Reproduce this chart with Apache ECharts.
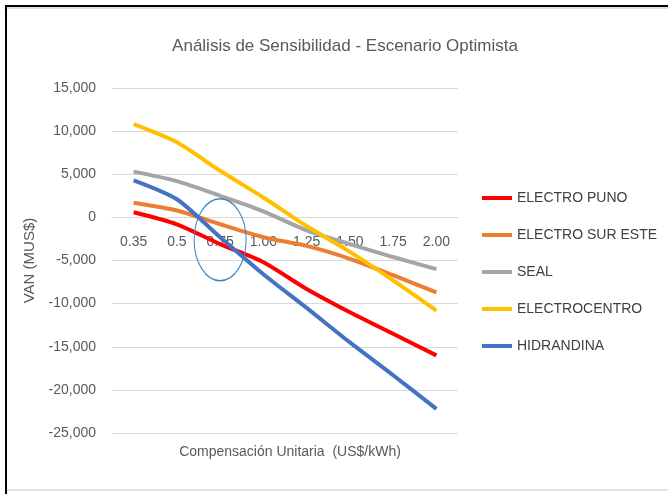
<!DOCTYPE html>
<html>
<head>
<meta charset="utf-8">
<script src="https://cdn.jsdelivr.net/npm/echarts@6/dist/echarts.min.js"></script>
<style>
html,body{margin:0;padding:0;background:#fff;}
#c{width:668px;height:494px;}
</style>
</head>
<body>
<div id="c"></div>
<script>
const categories = ['0.35','0.5','0.75','1.00','1.25','1.50','1.75','2.00'];
const electroPuno = [600, -800, -3100, -5200, -8300, -11000, -13500, -16000];
const electroSurEste = [1700, 800, -800, -2300, -3300, -4800, -6700, -8700];
const seal = [5300, 4200, 2500, 700, -1500, -3100, -4600, -6000];
const electrocentro = [10800, 8700, 5400, 2300, -1000, -4000, -7300, -10800];
const hidrandina = [4300, 2100, -2300, -6600, -10500, -14500, -18300, -22200];
const seriesNames = ['ELECTRO PUNO','ELECTRO SUR ESTE','SEAL','ELECTROCENTRO','HIDRANDINA'];
const seriesData = [electroPuno, electroSurEste, seal, electrocentro, hidrandina];
const colors = ['#FF0000','#ED7D31','#A5A5A5','#FFC000','#4472C4'];
const highlight = { category: '0.75', value: -2600 };

const FONT = '"Liberation Sans", Arial, sans-serif';
const chart = echarts.init(document.getElementById('c'), null, {renderer:'canvas'});

const option = {
  backgroundColor: '#fff',
  animation: false,
  color: colors,
  title: [
    { text: 'Análisis de Sensibilidad - Escenario Optimista', left: 340, textAlign: 'center', top: 33,
      textStyle: { fontFamily: FONT, fontSize: 17, fontWeight: 'normal', color: '#595959' } },
    { text: 'Compensación Unitaria  (US$/kWh)', left: 285, textAlign: 'center', top: 440,
      textStyle: { fontFamily: FONT, fontSize: 14, fontWeight: 'normal', color: '#595959' } }
  ],
  grid: { left: 112, right: 210, top: 88, bottom: 61, containLabel: false },
  legend: {
    orient: 'vertical', left: 477, top: 186,
    itemWidth: 30, itemHeight: 4, itemGap: 23,
    icon: 'rect',
    data: seriesNames,
    textStyle: { fontFamily: FONT, fontSize: 14, lineHeight: 14, color: '#404040' }
  },
  xAxis: {
    type: 'category', data: categories, boundaryGap: true,
    axisLine: { show: true, onZero: false, lineStyle: { color: '#D9D9D9', width: 1 } },
    axisTick: { show: false },
    axisLabel: { margin: 18, fontFamily: FONT, fontSize: 14, color: '#595959' },
    splitLine: { show: false }
  },
  yAxis: {
    type: 'value', min: -25000, max: 15000, interval: 5000,
    name: 'VAN (MUS$)', nameLocation: 'middle', nameGap: 62,
    nameTextStyle: { fontFamily: FONT, fontSize: 15, color: '#595959' },
    axisLine: { show: false }, axisTick: { show: false },
    axisLabel: { margin: 16, fontFamily: FONT, fontSize: 14, color: '#595959',
      formatter: v => v.toLocaleString('en-US') },
    splitLine: { lineStyle: { color: '#D9D9D9', width: 1 } }
  },
  series: seriesNames.map((n, i) => ({
    name: n, type: 'line', data: seriesData[i], smooth: 0.25,
    showSymbol: false, symbol: 'none',
    lineStyle: { width: 4, color: colors[i] },
    z: 3
  }))
};
chart.setOption(option);

// move the category axis (line + labels) onto the zero value line
const zeroY = chart.convertToPixel({yAxisIndex:0}, 0);
const minY = chart.convertToPixel({yAxisIndex:0}, -25000);
chart.setOption({ xAxis: { offset: -(minY - zeroY) } });

const c = chart.convertToPixel({xAxisIndex:0, yAxisIndex:0}, [highlight.category, highlight.value]);
chart.setOption({
  graphic: [
    { type: 'circle', x: c[0], y: c[1], scaleX: 26/41, shape: { cx: 0, cy: 0, r: 41 },
      style: { fill: 'none', stroke: '#3E86C2', lineWidth: 1.6 }, z: 100 },
    { type: 'rect', shape: { x: 5, y: 5, width: 663, height: 2 }, style: { fill: '#000' }, z: 100 },
    { type: 'rect', shape: { x: 7, y: 7, width: 661, height: 2 }, style: { fill: '#ddd' }, z: 100 },
    { type: 'rect', shape: { x: 5, y: 5, width: 2, height: 489 }, style: { fill: '#000' }, z: 100 },
    { type: 'rect', shape: { x: 7, y: 489, width: 661, height: 2 }, style: { fill: '#e3e3e3' }, z: 100 }
  ]
});
</script>
</body>
</html>
